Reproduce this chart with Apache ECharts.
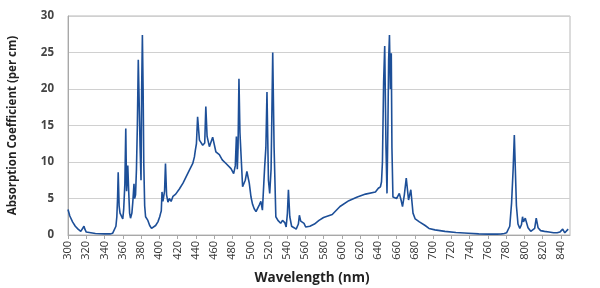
<!DOCTYPE html>
<html><head><meta charset="utf-8">
<script src="https://cdn.jsdelivr.net/npm/echarts@6/dist/echarts.min.js"></script>
<style>html,body{margin:0;padding:0;background:#fff}#c{width:600px;height:288px}</style>
</head><body><div id="c"></div>
<script>
const wavelength = [300,302,305,308,311,314,316,317.5,318.5,320,325,330,340,346,349,351,352.5,353.5,354.3,355,356,357,358.5,360,361,362.3,363.3,364.2,365.5,366.5,367.5,368.5,370,371,372.3,373,374,375,376,377,378,379,380,380.7,381.5,382.3,383,384,385,386,387.5,389.5,391.5,393,396,398.5,400.5,401.5,402.2,403,404,405.8,406.8,408,409.5,411,413,415,418,422,426,429.5,433,436.7,438.5,439.5,440.7,442,444,447.6,449.8,451,452.4,454.9,456.8,458.5,462,465.8,469,473.1,478.6,481.5,482.4,483.3,484.5,485.5,486.3,487.3,488.4,491.3,494.2,496,498.6,500.5,502.2,504,506,507.6,509.5,511.3,513,514.5,515.5,516.8,518,519.6,521,522.5,523.3,524.3,525.8,527.7,530,533,535,537.5,539,540.4,541.5,543,545,547.6,550,552.4,553.5,555,556.7,558.6,560.4,565,570,575,580,589.5,598,607.7,617,626,636.8,640,642.3,643.5,644.5,645.8,647,648.4,649.5,650.5,651.3,652.2,653.2,654.2,654.9,656,658,660,661.7,663,664.9,666.5,668.5,670.6,673.1,675.6,678,680.4,685,691.3,695.5,702,713,725,738.6,750,760,770,775,778,780.5,782.5,784,786,787.7,789,791.3,793,795,796.8,798,799,801,804,807,809,811.3,813,815,817.8,822,827,832,836,838.9,840.5,842,844.3,846,848];
const absorption = [3.5,2.6,1.8,1.2,0.8,0.5,0.4,1.2,0.8,0.4,0.3,0.2,0.15,0.15,0.25,0.5,1.2,2.5,5,8.6,4,3,2.8,2.2,3.5,7,14.6,6,9.5,6,3,2.3,3,4.5,7,5,5.5,9,15,24,18,12,7.5,20,27.4,20,10,4,2.5,2.6,2,1.3,0.9,0.9,1.3,1.8,2.5,3,3.3,5.9,4.6,6,9.8,5.5,4.5,5,4.6,5.3,5.6,6.3,7.1,8,8.9,9.8,10.7,11.6,12.5,16.2,13,12.3,12.6,17.6,13.5,12.1,12,13.4,11.4,11,10.3,9.8,9.1,8.4,8.3,9.5,13.5,9,12,21.4,14,6.6,7.5,8.7,7.1,5.2,4.2,3.6,3.2,3.3,4.1,4.6,3.4,7,9.4,12,19.6,7.5,5.7,9,16,25,12,2.5,2,1.6,2,1.7,1.1,3,6.2,2.5,1.2,1,0.8,1.5,2.7,1.9,1.8,1.6,1.1,1.2,1.5,2,2.4,2.8,3.9,4.7,5.2,5.6,5.9,6.4,6.6,7.3,10,21,25.9,12,5.7,15,24,27.4,20,24.9,12,5.2,5.1,5,5.4,5.7,4.8,3.9,5.5,7.8,4.8,6.2,3,2.2,1.8,1.3,0.9,0.7,0.5,0.35,0.25,0.15,0.12,0.12,0.15,0.2,0.3,0.5,1.2,4.4,9,13.7,4,1.5,0.9,1.4,2.5,1.8,2.3,1,0.5,0.4,0.9,2.3,1,0.6,0.5,0.4,0.3,0.3,0.4,0.5,0.8,0.3,0.5,0.8,0.4,0.3];
const xTicks = {min:300, max:850, step:20};
const yTicks = {min:0, max:30, step:5};

const points = wavelength.map((w,i)=>[w, absorption[i]]);
const chart = echarts.init(document.getElementById('c'), null, {renderer:'canvas'});
const lab = {fontFamily:'"Open Sans", "DejaVu Sans", sans-serif', color:'#333'};
chart.setOption({
  animation:false,
  grid:{left:68,right:30,top:16,bottom:53,show:true,borderColor:'#b8b8b8',borderWidth:1,
    containLabel:false,outerBoundsMode:'none'},
  xAxis:{type:'value',min:xTicks.min,max:xTicks.max,interval:xTicks.step,
    name:'Wavelength (nm)',nameLocation:'middle',nameGap:36,
    nameTextStyle:Object.assign({},lab,{fontWeight:'bold',fontSize:13.5,color:'#222',padding:[0,14,0,0]}),
    axisLine:{lineStyle:{color:'#a8a8a8'}},
    axisTick:{show:true,length:4,lineStyle:{color:'#a8a8a8'}},
    axisLabel:Object.assign({},lab,{rotate:90,fontSize:11,margin:6,showMaxLabel:false,
      formatter:v=> v>=850?'':String(v)}),
    splitLine:{show:false}},
  yAxis:{type:'value',min:yTicks.min,max:yTicks.max,interval:yTicks.step,
    name:'Absorption Coefficient (per cm)',nameLocation:'middle',nameGap:49,
    nameTextStyle:Object.assign({},lab,{fontWeight:'bold',fontSize:11.5,color:'#222'}),
    axisLine:{show:true,lineStyle:{color:'#a8a8a8'}},
    axisTick:{show:false},
    axisLabel:Object.assign({},lab,{fontSize:11.5,margin:14,fontWeight:'bold',color:'#444'}),
    splitLine:{lineStyle:{color:'#d0d0d0',width:1}}},
  series:[{type:'line',data:points,showSymbol:false,smooth:false,
    lineStyle:{color:'#1d4f98',width:1.6},itemStyle:{color:'#1d4f98'}}]
});
</script></body></html>
